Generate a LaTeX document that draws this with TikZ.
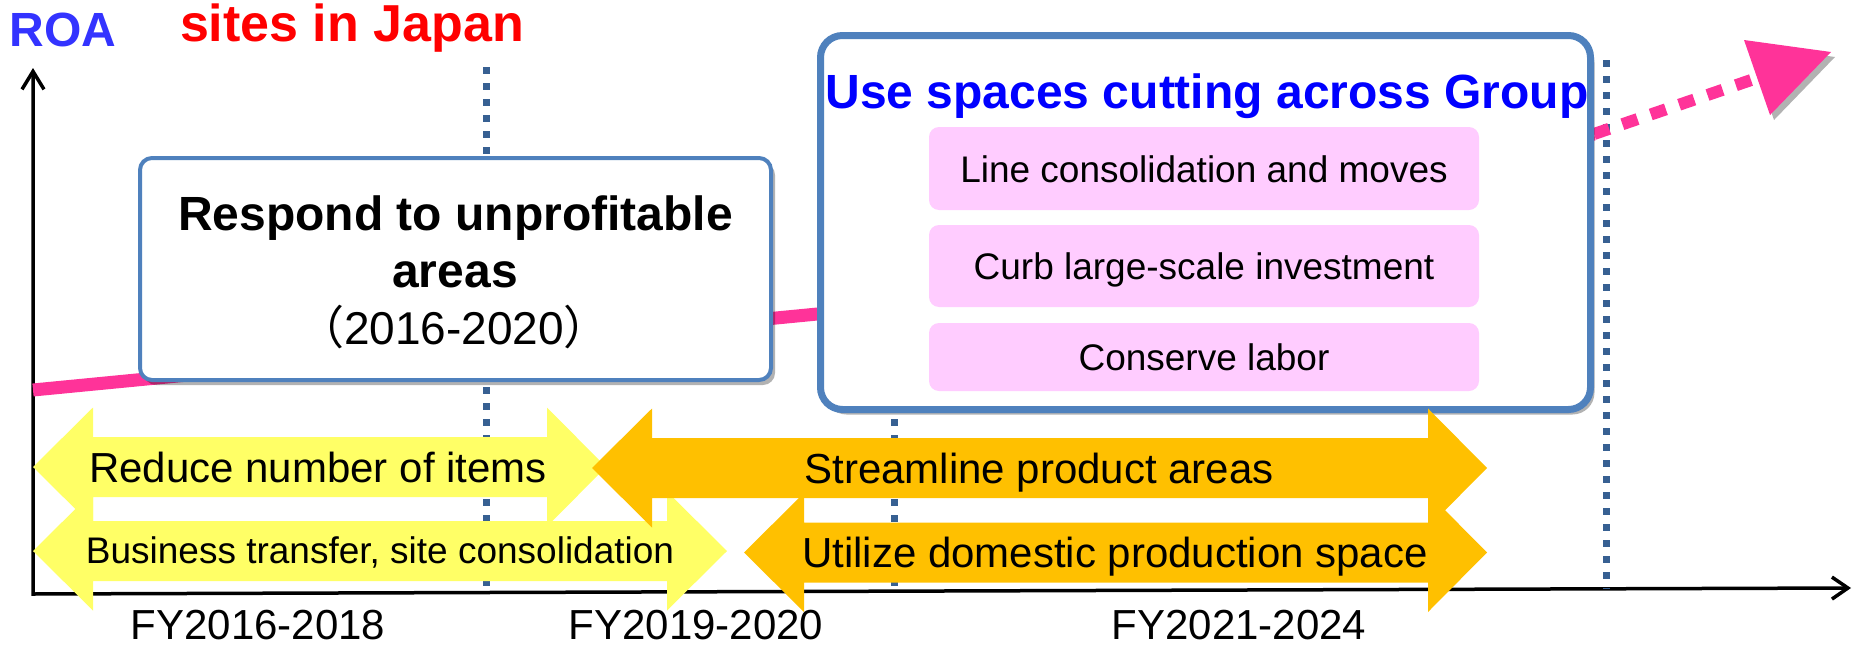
\documentclass[tikz,border=0pt]{standalone}
\usepackage{fontspec}
\setmainfont{Liberation Sans}
\newfontfamily\cjkfont{Noto Sans CJK JP}
\usetikzlibrary{arrows.meta,shadows}
\definecolor{pinkline}{RGB}{255,51,153}
\definecolor{boxblue}{RGB}{79,129,189}
\definecolor{dotblue}{RGB}{55,96,146}
\definecolor{yel}{RGB}{255,255,102}
\definecolor{org}{RGB}{255,192,0}
\definecolor{pinkbox}{RGB}{255,204,255}
\definecolor{roablue}{RGB}{51,51,255}
\definecolor{titleblue}{RGB}{0,0,255}
\newcommand\fs[1]{\fontsize{#1}{#1}\selectfont}
\newcommand\dblarrow[6]{%
  \fill[#1] (#2,#6) -- (#3,#6-59.5) -- (#3,#6-30) -- (#4,#6-30) -- (#4,#6-59.5) -- (#5,#6)
    -- (#4,#6+59.5) -- (#4,#6+30) -- (#3,#6+30) -- (#3,#6+59.5) -- cycle;}
\begin{document}
\begin{tikzpicture}[x=1pt,y=-1pt,
  axisline/.style={line width=3.5pt, line join=miter},
  vdots/.style={dotblue, line width=7pt, dash pattern=on 7pt off 9pt},
  trendline/.style={pinkline, line width=13pt},
  trenddots/.style={pinkline, line width=12pt, dash pattern=on 16pt off 14pt},
  shadowed/.style={drop shadow={shadow xshift=4pt,shadow yshift=-5pt,opacity=0.3,fill=black}},
  bigbox/.style={draw=boxblue, fill=white, shadowed, inner sep=0pt},
  subbox/.style={fill=pinkbox, rounded corners=10pt, minimum width=550pt, inner sep=0pt, text height=27pt, text depth=0pt, font=\fs{37}},
  lbl/.style={anchor=base, inner sep=0pt},
]
\path[use as bounding box] (0,0) rectangle (1855,645);

% axes
\coordinate (origin) at (33,594);
\coordinate (ytop) at (33,68);
\coordinate (xend) at (1851,588);
\draw[axisline, {Straight Barb[length=18pt,width=22pt]}-{Straight Barb[length=16pt,width=22pt]}] (ytop) -- (origin) -- (xend);

% dotted period separators
\coordinate (d1t) at (486,67);   \coordinate (d1b) at (486,594);
\coordinate (d2t) at (894,67);   \coordinate (d2b) at (894,592);
\coordinate (d3t) at (1606,60);  \coordinate (d3b) at (1606,589);
\draw[vdots] (d1t) -- (d1b);
\draw[vdots] (d2t) -- (d2b);
\draw[vdots] (d3t) -- (d3b);

% ROA trend
\coordinate (p0) at (33,390);
\coordinate (p1) at (900,306);
\coordinate (p2) at (1594,134);
\coordinate (p3) at (1757,78);
\coordinate (tip) at (1831,52);
\coordinate (hb1) at (1770,115);
\coordinate (hb2) at (1744,40);
\draw[trendline] (p0) -- (p1) -- (p2);
\draw[trenddots] (p2) -- (p3);
\fill[pinkline, shadowed] (tip) -- (hb1) -- (hb2) -- cycle;

% box 1
\node[bigbox, line width=4pt, rounded corners=12pt, minimum width=631pt, minimum height=222pt] (box1) at (455.5,269) {};
\node[lbl, font=\bfseries\fs{48}] (b1l1) at (455.5,230) {Respond to unprofitable};
\node[lbl, font=\bfseries\fs{48}] (b1l2) at (455,287) {areas};
\node[lbl, font=\fs{46}] (b1l3) at (454,344) {{\cjkfont （}2016-2020{\cjkfont ）}};

% box 2
\node[bigbox, line width=7pt, rounded corners=22pt, minimum width=770pt, minimum height=374pt] (box2) at (1205.5,222.5) {};
\node[lbl, font=\bfseries\fs{48}, text=titleblue] (b2title) at (1207,108) {Use spaces cutting across Group};
\node[subbox, minimum height=83pt] (sub1) at (1204,168.5) {Line consolidation and moves};
\node[subbox, minimum height=82pt] (sub2) at (1204,266) {Curb large-scale investment};
\node[subbox, minimum height=68pt] (sub3) at (1204,357) {Conserve labor};

% double arrows
\dblarrow{yel}{33}{93}{547}{606}{467}
\dblarrow{yel}{33}{93}{667}{727}{551}
\dblarrow{org}{592}{652}{1428}{1487}{468}
\dblarrow{org}{744}{804}{1428}{1487}{552.5}
\node[lbl, font=\fs{42}] (treduce) at (318,482) {Reduce number of items};
\node[lbl, font=\fs{37}] (tbusiness) at (380,563) {Business transfer, site consolidation};
\node[lbl, font=\fs{42}] (tstream) at (1039,483) {Streamline product areas};
\node[lbl, font=\fs{42}] (tutilize) at (1115,567) {Utilize domestic production space};

% axis labels
\node[lbl, font=\fs{42}] (fy1) at (258,639) {FY2016-2018};
\node[lbl, font=\fs{42}] (fy2) at (696,639) {FY2019-2020};
\node[lbl, font=\fs{42}] (fy3) at (1239,639) {FY2021-2024};
\node[lbl, font=\bfseries\fs{48}, text=roablue] (roa) at (63,46) {ROA};
\node[lbl, font=\bfseries\fs{52}, text=red] (sites) at (352,41) {sites in Japan};
\end{tikzpicture}
\end{document}
